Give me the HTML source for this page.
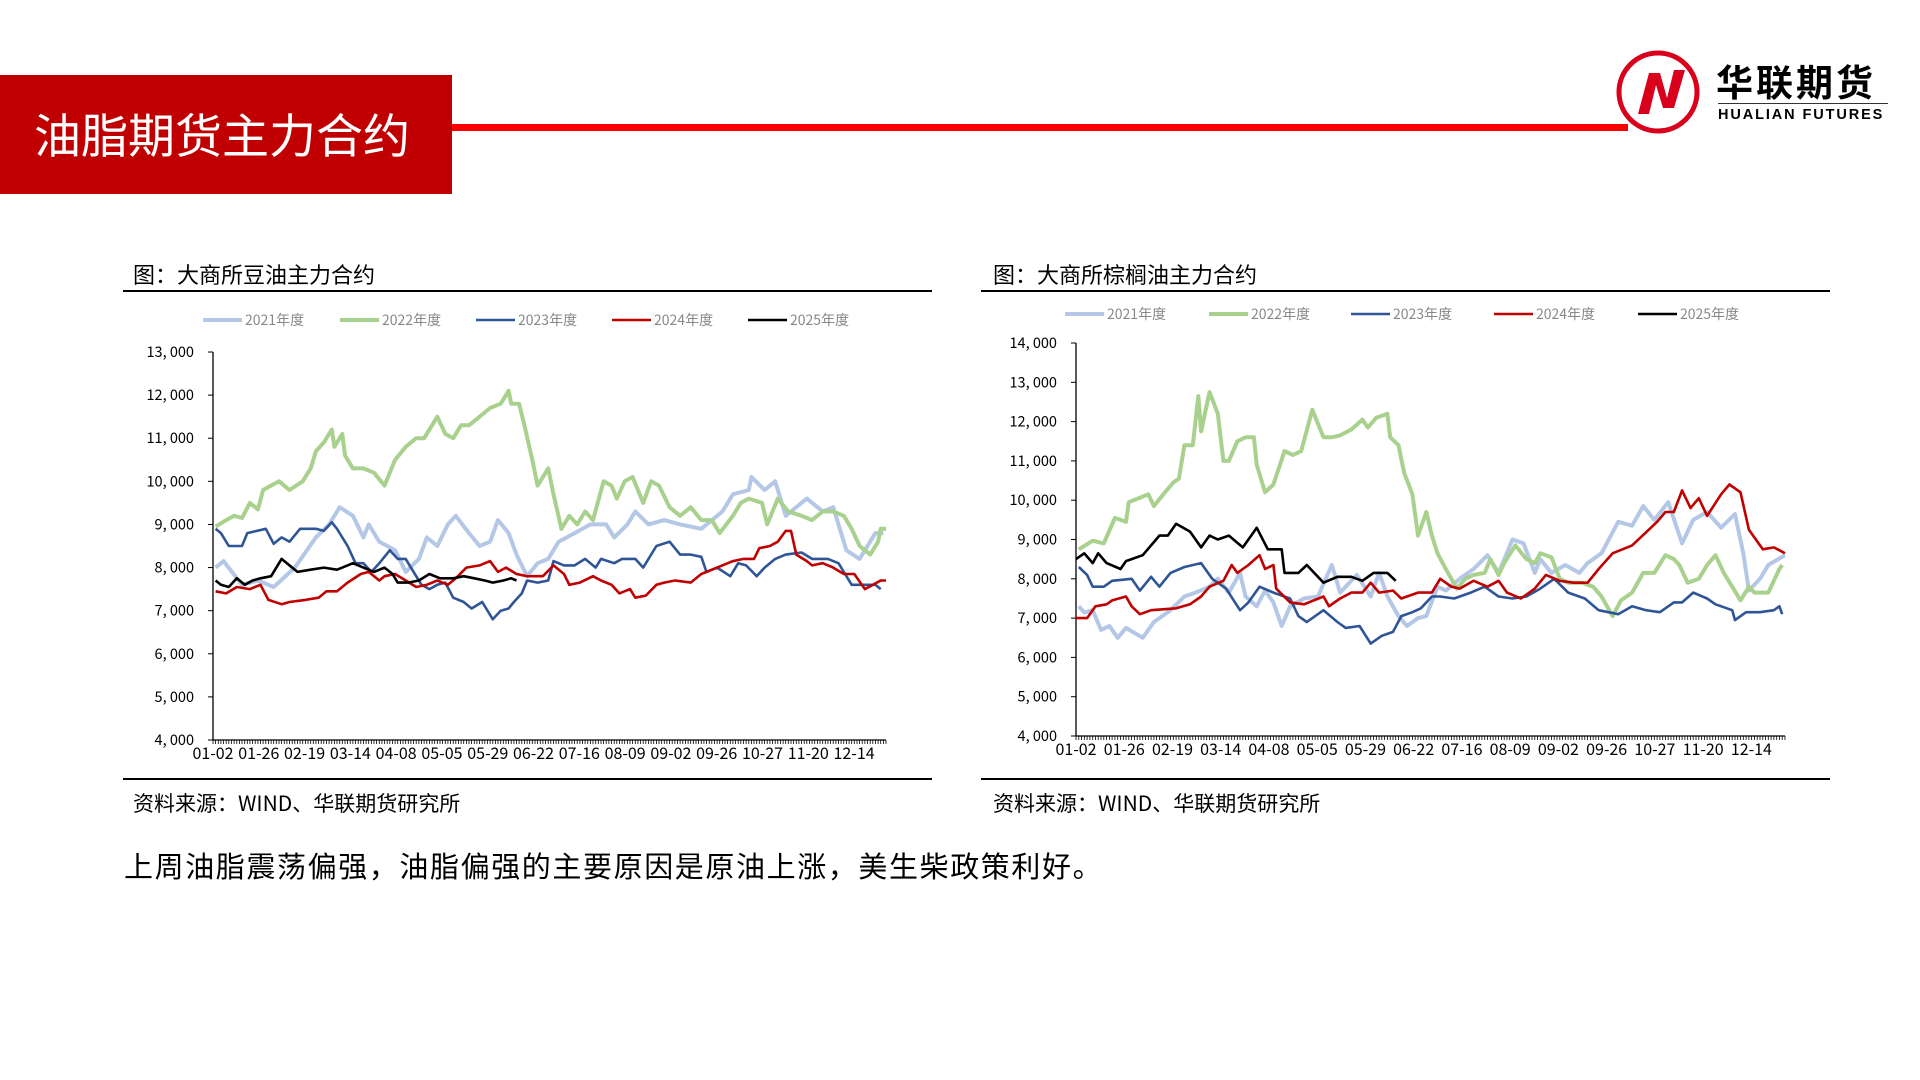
<!DOCTYPE html>
<html><head><meta charset="utf-8"><style>
body{margin:0;width:1920px;height:1080px;background:#fff;position:relative;overflow:hidden;font-family:"Liberation Sans","Noto Sans CJK SC",sans-serif}
.abs{position:absolute}
</style></head><body>
<div class="abs" style="left:0;top:75px;width:452px;height:119px;background:#c00000"></div>
<div class="abs" style="left:34px;top:106px;font-size:47px;color:#fff;line-height:54px;font-family:'Noto Sans CJK SC',sans-serif">油脂期货主力合约</div>
<div class="abs" style="left:452px;top:124px;width:1176px;height:7px;background:#ff0000"></div>
<svg class="abs" style="left:1614px;top:48px" width="88" height="88" viewBox="0 0 88 88">
<circle cx="44" cy="44" r="39" fill="#fff" stroke="#d9001b" stroke-width="5"/>
<polygon points="24,66 35,25 46,25 53,50 60,22 71,22 60,60 49,60 42,37 35,66" fill="#d9001b"/>
</svg>
<div class="abs" style="left:1716px;top:58px;font-size:37px;font-weight:bold;letter-spacing:3px;line-height:44px;font-family:'Noto Sans CJK SC',sans-serif">华联期货</div>
<div class="abs" style="left:1718px;top:103px;width:170px;height:1px;background:#333"></div>
<div class="abs" style="left:1718px;top:106px;font-size:14.5px;font-weight:bold;letter-spacing:1.9px;line-height:18px">HUALIAN FUTURES</div>
<div class="abs" style="left:124px;top:847px;font-size:29px;letter-spacing:1.6px;line-height:36px;font-family:'Noto Sans CJK SC',sans-serif">上周油脂震荡偏强，油脂偏强的主要原因是原油上涨，美生柴政策利好。</div>
<svg id="charts" class="abs" style="left:0;top:0" width="1920" height="1080"></svg>
<script>
const seriesNames=['2021年度','2022年度','2023年度','2024年度','2025年度'];
const xLabels=['01-02','01-26','02-19','03-14','04-08','05-05','05-29','06-22','07-16','08-09','09-02','09-26','10-27','11-20','12-14'];
const soyTicks=[4000,5000,6000,7000,8000,9000,10000,11000,12000,13000];
const palmTicks=[4000,5000,6000,7000,8000,9000,10000,11000,12000,13000,14000];
// Soybean oil
const soyD21=[1,4,11,17,23,31,39,44,48,53,57,59,63,69,73,78,81,85,89,92,97,101,105,108,112,115,119,123,127,131,137,143,149,152,157,160,165,171,177,185,193,197,203,204,209,213,217,223,225,231,235,240,245,251,254];
const soyV21=[8000,8150,7600,7700,7550,8000,8700,9000,9400,9200,8700,9000,8600,8400,7900,8200,8700,8500,9000,9200,8800,8500,8600,9100,8800,8300,7800,8100,8200,8600,8800,9000,9000,8700,9000,9300,9000,9100,9000,8900,9300,9700,9800,10100,9800,10000,9200,9500,9600,9300,9400,8400,8200,8800,8800];
const soyD22=[1,5,8,11,14,17,19,25,29,34,37,39,42,45,46,49,50,53,57,61,65,69,73,77,80,85,88,91,94,97,101,105,109,112,113,116,118,121,123,127,129,132,135,138,141,144,148,151,153,156,159,163,166,169,173,177,181,185,189,192,197,200,203,208,210,214,218,223,227,231,235,239,242,245,249,252,253,255];
const soyV22=[8950,9100,9200,9150,9500,9350,9800,10000,9800,10000,10300,10700,10900,11200,10800,11100,10600,10300,10300,10200,9900,10500,10800,11000,11000,11500,11100,11000,11300,11300,11500,11700,11800,12100,11800,11800,11300,10500,9900,10300,9700,8900,9200,9000,9300,9100,10000,9900,9600,10000,10100,9500,10000,9900,9400,9200,9400,9100,9100,8800,9200,9500,9600,9500,9000,9600,9300,9200,9100,9300,9300,9200,8900,8500,8300,8600,8900,8900];
const soyD23=[1,3,6,11,13,20,23,26,29,33,39,42,45,47,51,54,57,60,63,67,70,73,76,79,82,85,88,91,95,98,102,106,109,112,114,117,119,123,127,129,133,137,141,145,147,152,155,160,163,168,173,177,181,185,187,191,196,199,202,206,209,213,217,223,227,233,237,242,247,251,253];
const soyV23=[8900,8800,8500,8500,8800,8900,8550,8700,8600,8900,8900,8850,9050,8900,8500,8100,8100,7900,8100,8400,8200,8200,7900,7600,7500,7600,7650,7300,7200,7050,7200,6800,7000,7050,7200,7400,7700,7650,7700,8150,8050,8050,8200,8000,8200,8100,8200,8200,8000,8500,8600,8300,8300,8250,7900,8000,7800,8100,8050,7800,8000,8200,8300,8350,8200,8200,8100,7600,7600,7600,7500];
const soyD24=[1,5,9,14,18,21,26,29,35,40,43,47,51,56,59,63,65,69,73,77,81,85,89,92,96,101,105,108,111,115,119,125,129,133,135,139,144,147,151,154,158,160,164,168,171,175,181,185,191,197,201,205,207,211,214,217,219,221,225,227,231,235,239,243,247,250,253,255];
const soyV24=[7450,7400,7550,7500,7600,7250,7150,7200,7250,7300,7450,7450,7650,7850,7900,7700,7800,7850,7700,7550,7600,7700,7600,7750,8000,8050,8150,7900,8000,7850,7800,7800,8050,7850,7600,7650,7800,7700,7600,7400,7500,7300,7350,7600,7650,7700,7650,7850,8000,8150,8200,8200,8450,8500,8600,8850,8850,8300,8150,8050,8100,8000,7850,7850,7500,7600,7700,7700];
const soyD25=[1,3,6,9,12,15,18,22,26,29,32,37,42,47,49,53,57,61,65,68,70,74,78,82,86,91,95,99,103,106,110,113,115];
const soyV25=[7700,7600,7550,7750,7600,7700,7750,7800,8200,8050,7900,7950,8000,7950,8000,8100,8000,7900,8000,7850,7650,7650,7700,7850,7750,7750,7800,7750,7700,7650,7700,7750,7700];
// Palm oil
const palmD21=[1,3,6,9,12,15,18,24,28,34,39,43,48,51,55,59,61,65,68,71,74,77,82,87,92,95,101,106,109,112,116,119,123,126,130,133,138,143,148,152,157,161,165,167,171,176,181,184,189,195,200,204,208,213,218,222,227,232,237,240,242,246,249,255];
const palmV21=[7300,7140,7200,6700,6800,6500,6750,6500,6900,7200,7550,7650,7800,8000,7650,8150,7550,7300,7700,7400,6800,7300,7500,7550,8350,7650,8100,7550,8150,7550,7050,6800,7000,7050,7800,7700,8000,8250,8600,8150,9000,8900,8150,8500,8150,8350,8150,8400,8650,9450,9350,9850,9500,9950,8900,9500,9700,9300,9650,8650,7700,8000,8350,8600];
const palmD22=[1,6,10,14,18,19,26,28,32,35,37,39,42,44,45,48,51,53,55,58,61,64,65,68,71,75,78,81,85,89,92,95,99,103,105,108,112,113,116,118,121,123,126,128,130,133,135,137,140,143,147,149,152,154,158,162,165,167,171,174,177,182,186,189,193,196,200,204,208,212,215,217,220,224,227,230,233,236,239,242,244,249,253,254];
const palmV22=[8750,8970,8900,9550,9450,9950,10150,9850,10200,10450,10550,11400,11400,12650,11750,12750,12200,11000,11000,11500,11600,11600,10900,10200,10400,11250,11150,11250,12300,11600,11600,11650,11800,12050,11850,12100,12200,11600,11400,10700,10150,9100,9700,9100,8650,8250,8000,7750,8000,8100,8150,8500,8100,8400,8850,8500,8400,8650,8550,8000,7900,7900,7800,7550,7050,7450,7650,8150,8150,8600,8500,8350,7900,8000,8350,8600,8150,7800,7450,7800,7650,7650,8250,8350];
const palmD23=[1,4,6,10,13,20,23,27,30,34,39,45,49,54,59,62,66,71,77,80,83,89,94,97,102,106,110,114,117,121,124,128,131,136,142,147,152,157,162,167,172,177,183,188,195,200,205,210,215,218,222,227,230,236,237,241,246,251,253,254];
const palmV23=[8300,8100,7800,7800,7950,8000,7700,8050,7800,8150,8300,8400,8000,7750,7200,7400,7800,7650,7500,7050,6900,7200,6900,6750,6800,6350,6550,6650,7050,7150,7250,7550,7550,7500,7650,7800,7550,7500,7550,7750,8000,7650,7500,7200,7100,7300,7200,7150,7400,7400,7650,7500,7350,7200,6950,7150,7150,7200,7300,7100];
const palmD24=[0,4,7,11,13,18,20,23,27,36,41,45,48,53,56,58,62,66,68,71,72,77,82,89,91,95,99,103,106,109,114,117,123,128,131,135,138,143,148,152,155,160,165,169,174,179,184,188,193,200,206,209,212,215,218,221,224,227,232,235,239,242,247,251,255];
const palmV24=[7000,7000,7300,7350,7450,7550,7300,7100,7200,7250,7350,7550,7800,7950,8350,8150,8350,8600,8250,8350,7750,7400,7350,7550,7300,7500,7650,7650,7900,7650,7700,7500,7650,7650,8000,7800,7750,7950,7800,7950,7650,7500,7750,8100,7950,7900,7900,8250,8650,8850,9250,9450,9700,9700,10250,9800,10050,9600,10150,10400,10200,9250,8750,8800,8650];
const palmD25=[0,3,6,8,11,16,18,24,27,30,33,36,41,45,48,51,55,60,63,65,69,74,75,80,83,89,94,99,103,107,112,115];
const palmV25=[8500,8650,8400,8650,8400,8250,8450,8600,8850,9100,9100,9400,9200,8800,9100,9000,9100,8800,9100,9300,8750,8750,8150,8150,8350,7900,8050,8050,7950,8150,8150,7950];

const colors=['#b4c7e7','#a9d18e','#2f5597','#c00000','#000000'];
const widths=[4,4,2.6,2.6,2.6];
const NS='http://www.w3.org/2000/svg';
const svg=document.getElementById('charts');
function mk(tag,attrs,parent){const e=document.createElementNS(NS,tag);for(const k in attrs)e.setAttribute(k,attrs[k]);(parent||svg).appendChild(e);return e;}
const FONT='"Liberation Sans","Noto Sans CJK SC",sans-serif';
const CJK='"Noto Sans CJK SC",sans-serif';

function drawChart(cfg){
  const g=mk('g',{});
  
  
  const t=mk('text',{x:cfg.left,y:cfg.titleY,'font-size':22,'font-family':CJK,fill:'#000'},g);
  t.textContent=cfg.title;
  
  
  const r1=mk('rect',{x:cfg.boxL,y:cfg.titleLineY,width:cfg.boxR-cfg.boxL,height:2,fill:'#000'},g);
  
  
  const r2=mk('rect',{x:cfg.boxL,y:cfg.bottomLineY,width:cfg.boxR-cfg.boxL,height:2,fill:'#000'},g);
  
  
  const s=mk('text',{x:cfg.left,y:cfg.bottomLineY+33,'font-size':21,'font-family':CJK,fill:'#000'},g);
  s.textContent='资料来源：WIND、华联期货研究所';
  
  
  seriesNames.forEach((n,i)=>{
    const lg=mk('g',{},g);
    
    
    const lx=cfg.legendX[i];
    mk('line',{x1:lx,x2:lx+39,y1:cfg.legendY,y2:cfg.legendY,stroke:colors[i],'stroke-width':i<2?4:2.6},lg);
    const lt=mk('text',{x:lx+42,y:cfg.legendY+5,'font-size':14,'font-family':CJK,fill:'#888'},lg);
    lt.textContent=n;
  });
  const x0=cfg.axL,x1=cfg.axR,yT=cfg.axT,yB=cfg.axB;
  const ymin=cfg.ticks[0],ymax=cfg.ticks[cfg.ticks.length-1];
  const X=d=>x0+d/255*(x1-x0);
  const Y=v=>yB-(v-ymin)/(ymax-ymin)*(yB-yT);
  const ya=mk('g',{},g);
  
  
  mk('line',{x1:x0,x2:x0,y1:yT,y2:yB,stroke:'#000','stroke-width':1.3},ya);
  cfg.ticks.forEach(v=>{
    mk('line',{x1:x0-5,x2:x0,y1:Y(v),y2:Y(v),stroke:'#000','stroke-width':1},ya);
    const tt=mk('text',{x:x0-19,y:Y(v)+5,'font-size':14.5,'font-family':CJK,'text-anchor':'end',fill:'#000'},ya);
    tt.textContent=v.toLocaleString('en-US').replace(',',', ');
  });
  const xa=mk('g',{},g);
  
  
  mk('line',{x1:x0,x2:x1,y1:yB,y2:yB,stroke:'#000','stroke-width':1.3},xa);
  let p='';
  for(let d=0;d<=255;d++){const xx=X(d).toFixed(1);p+='M'+xx+' '+yB+'V'+(yB+4);}
  mk('path',{d:p,stroke:'#000','stroke-width':0.8},xa);
  xLabels.forEach((l,i)=>{
    const tx=mk('text',{x:X(i*17.35),y:yB+19,'font-size':16,'font-family':CJK,'text-anchor':'middle',fill:'#000'},xa);
    tx.textContent=l;
  });
  cfg.series.forEach((sr,i)=>{
    const d=sr[0].map((dd,k)=>(k?'L':'M')+X(dd).toFixed(1)+' '+Y(sr[1][k]).toFixed(1)).join('');
    const pl=mk('path',{d:d,fill:'none',stroke:colors[i],'stroke-width':widths[i],'stroke-linejoin':'round'},g);
    
    
  });
}
drawChart({name:'soybean-oil-chart',title:'图：大商所豆油主力合约',left:133,titleY:283,boxL:123,boxR:932,titleLineY:290,bottomLineY:778,
  legendY:320,legendX:[203,340,476,612,748],axL:213,axR:886,axT:352,axB:740,ticks:soyTicks,
  series:[[soyD21,soyV21],[soyD22,soyV22],[soyD23,soyV23],[soyD24,soyV24],[soyD25,soyV25]]});
drawChart({name:'palm-oil-chart',title:'图：大商所棕榈油主力合约',left:993,titleY:283,boxL:981,boxR:1830,titleLineY:290,bottomLineY:778,
  legendY:314,legendX:[1065,1209,1351,1494,1638],axL:1076,axR:1785,axT:343,axB:736,ticks:palmTicks,
  series:[[palmD21,palmV21],[palmD22,palmV22],[palmD23,palmV23],[palmD24,palmV24],[palmD25,palmV25]]});
</script>
</body></html>
